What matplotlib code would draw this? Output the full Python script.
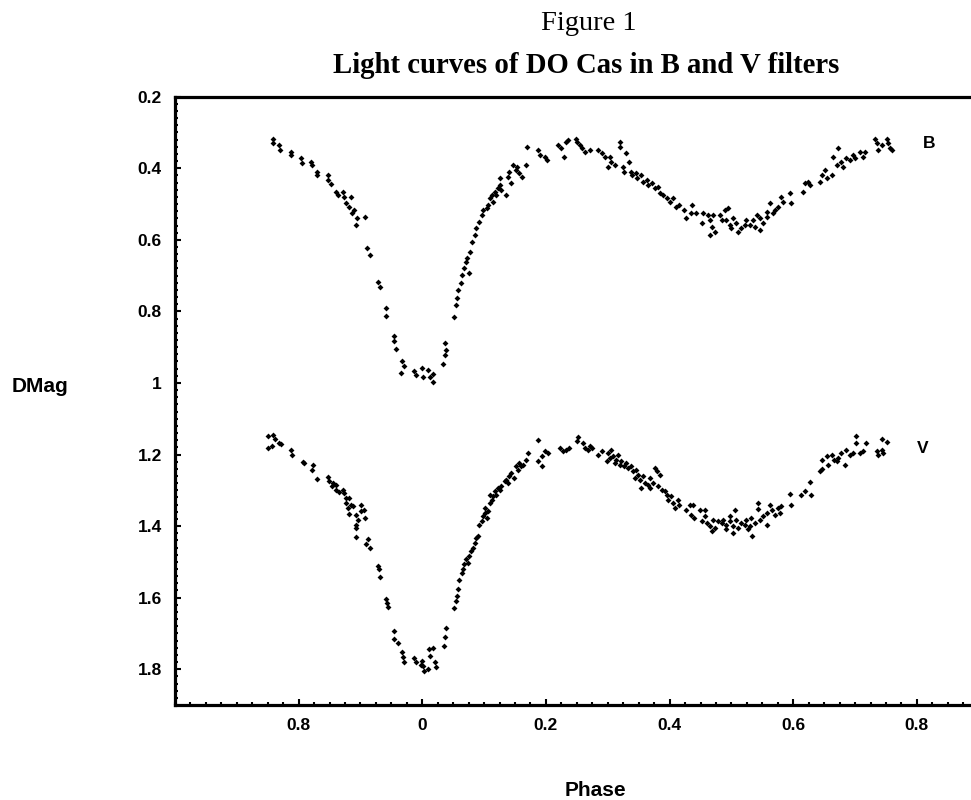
import matplotlib
matplotlib.use('Agg')
import matplotlib.pyplot as plt
from matplotlib.ticker import MultipleLocator

plt.rcParams['font.family'] = ['Liberation Sans', 'DejaVu Sans']

# B filter: phase, differential magnitude
b_phase = [-0.242, -0.242, -0.231, -0.230, -0.212, -0.212, -0.196, -0.194, -0.180, -0.178,
           -0.171, -0.171, -0.153, -0.152, -0.147, -0.140, -0.137, -0.129, -0.126, -0.123,
           -0.115, -0.118, -0.110, -0.113, -0.105, -0.093, -0.107, -0.089, -0.085, -0.072,
           -0.069, -0.059, -0.058, -0.046, -0.045, -0.042, -0.032, -0.030, -0.034, -0.013,
           -0.010, 0.000, 0.001, 0.009, 0.012, 0.017, 0.018, 0.033, 0.036, 0.036,
           0.039, 0.052, 0.054, 0.056, 0.057, 0.063, 0.065, 0.068, 0.071, 0.075,
           0.073, 0.077, 0.081, 0.085, 0.087, 0.091, 0.096, 0.098, 0.104, 0.106,
           0.109, 0.112, 0.114, 0.117, 0.120, 0.122, 0.125, 0.128, 0.125, 0.136,
           0.138, 0.144, 0.141, 0.146, 0.152, 0.154, 0.157, 0.162, 0.168, 0.169,
           0.187, 0.190, 0.198, 0.201, 0.219, 0.225, 0.230, 0.233, 0.235, 0.249,
           0.251, 0.255, 0.259, 0.263, 0.271, 0.284, 0.290, 0.295, 0.303, 0.306,
           0.300, 0.319, 0.319, 0.311, 0.324, 0.330, 0.335, 0.327, 0.338, 0.340,
           0.346, 0.348, 0.354, 0.357, 0.363, 0.365, 0.371, 0.376, 0.381, 0.384,
           0.389, 0.395, 0.400, 0.405, 0.411, 0.416, 0.424, 0.427, 0.437, 0.443,
           0.435, 0.452, 0.454, 0.462, 0.465, 0.468, 0.465, 0.473, 0.470, 0.481,
           0.484, 0.489, 0.494, 0.492, 0.497, 0.500, 0.502, 0.508, 0.510, 0.516,
           0.522, 0.524, 0.530, 0.535, 0.538, 0.541, 0.546, 0.546, 0.551, 0.557,
           0.557, 0.562, 0.567, 0.570, 0.575, 0.581, 0.583, 0.594, 0.597, 0.615,
           0.619, 0.627, 0.624, 0.643, 0.646, 0.651, 0.654, 0.662, 0.664, 0.670,
           0.672, 0.678, 0.680, 0.686, 0.691, 0.696, 0.700, 0.708, 0.713, 0.716,
           0.732, 0.735, 0.737, 0.743, 0.751, 0.753, 0.756, 0.759]
b_mag = [0.317, 0.330, 0.335, 0.349, 0.354, 0.363, 0.372, 0.386, 0.382, 0.391,
         0.410, 0.419, 0.419, 0.433, 0.444, 0.466, 0.475, 0.466, 0.480, 0.497,
         0.480, 0.507, 0.517, 0.525, 0.539, 0.535, 0.559, 0.623, 0.642, 0.717,
         0.731, 0.790, 0.814, 0.870, 0.884, 0.905, 0.940, 0.954, 0.971, 0.968,
         0.979, 0.957, 0.982, 0.963, 0.982, 0.974, 0.996, 0.946, 0.921, 0.888,
         0.907, 0.817, 0.782, 0.762, 0.740, 0.720, 0.698, 0.679, 0.661, 0.692,
         0.651, 0.633, 0.605, 0.586, 0.567, 0.549, 0.531, 0.517, 0.511, 0.503,
         0.483, 0.475, 0.494, 0.466, 0.475, 0.455, 0.447, 0.461, 0.427, 0.475,
         0.424, 0.441, 0.410, 0.391, 0.405, 0.396, 0.413, 0.424, 0.391, 0.340,
         0.349, 0.363, 0.368, 0.377, 0.335, 0.344, 0.368, 0.326, 0.321, 0.317,
         0.326, 0.335, 0.344, 0.354, 0.349, 0.349, 0.358, 0.368, 0.368, 0.382,
         0.396, 0.326, 0.340, 0.391, 0.396, 0.358, 0.382, 0.410, 0.410, 0.419,
         0.413, 0.427, 0.419, 0.438, 0.433, 0.447, 0.441, 0.455, 0.452, 0.469,
         0.475, 0.483, 0.494, 0.483, 0.507, 0.503, 0.517, 0.539, 0.503, 0.525,
         0.525, 0.553, 0.525, 0.531, 0.545, 0.563, 0.586, 0.577, 0.531, 0.531,
         0.545, 0.517, 0.511, 0.545, 0.559, 0.567, 0.539, 0.553, 0.577, 0.567,
         0.559, 0.545, 0.559, 0.545, 0.563, 0.531, 0.539, 0.572, 0.553, 0.535,
         0.521, 0.497, 0.525, 0.517, 0.507, 0.480, 0.494, 0.469, 0.497, 0.466,
         0.441, 0.447, 0.438, 0.438, 0.419, 0.405, 0.427, 0.419, 0.368, 0.391,
         0.344, 0.382, 0.396, 0.372, 0.377, 0.363, 0.372, 0.354, 0.368, 0.354,
         0.317, 0.330, 0.349, 0.335, 0.317, 0.330, 0.344, 0.349]

# V filter: phase, differential magnitude
v_phase = [-0.250, -0.242, -0.239, -0.250, -0.243, -0.231, -0.228, -0.212, -0.210, -0.193,
           -0.191, -0.177, -0.179, -0.170, -0.153, -0.151, -0.145, -0.139, -0.146, -0.139,
           -0.134, -0.129, -0.126, -0.124, -0.118, -0.123, -0.115, -0.120, -0.112, -0.118,
           -0.107, -0.099, -0.094, -0.099, -0.092, -0.104, -0.108, -0.107, -0.108, -0.088,
           -0.091, -0.084, -0.072, -0.070, -0.068, -0.059, -0.057, -0.056, -0.045, -0.045,
           -0.040, -0.032, -0.031, -0.030, -0.013, -0.010, 0.000, -0.002, 0.002, 0.001,
           0.009, 0.011, 0.012, 0.017, 0.020, 0.022, 0.035, 0.037, 0.039, 0.052,
           0.054, 0.056, 0.058, 0.059, 0.065, 0.066, 0.068, 0.071, 0.074, 0.075,
           0.079, 0.082, 0.085, 0.087, 0.090, 0.092, 0.096, 0.098, 0.101, 0.104,
           0.102, 0.106, 0.109, 0.112, 0.114, 0.109, 0.117, 0.120, 0.122, 0.125,
           0.128, 0.133, 0.136, 0.139, 0.141, 0.144, 0.149, 0.152, 0.155, 0.157,
           0.160, 0.163, 0.167, 0.171, 0.187, 0.187, 0.193, 0.194, 0.198, 0.203,
           0.222, 0.228, 0.233, 0.238, 0.252, 0.250, 0.260, 0.263, 0.268, 0.271,
           0.274, 0.284, 0.290, 0.300, 0.306, 0.303, 0.298, 0.308, 0.311, 0.314,
           0.317, 0.319, 0.322, 0.327, 0.330, 0.333, 0.338, 0.341, 0.346, 0.344,
           0.349, 0.352, 0.353, 0.357, 0.360, 0.365, 0.368, 0.368, 0.373, 0.376,
           0.379, 0.381, 0.384, 0.387, 0.392, 0.395, 0.397, 0.403, 0.406, 0.408,
           0.414, 0.416, 0.427, 0.433, 0.435, 0.439, 0.438, 0.449, 0.457, 0.452,
           0.457, 0.460, 0.465, 0.468, 0.470, 0.473, 0.478, 0.484, 0.486, 0.492,
           0.492, 0.497, 0.497, 0.503, 0.505, 0.503, 0.508, 0.511, 0.516, 0.522,
           0.524, 0.527, 0.530, 0.532, 0.534, 0.538, 0.543, 0.543, 0.546, 0.551,
           0.557, 0.558, 0.562, 0.565, 0.570, 0.575, 0.578, 0.581, 0.594, 0.597,
           0.613, 0.619, 0.627, 0.629, 0.643, 0.647, 0.646, 0.654, 0.656, 0.663,
           0.666, 0.670, 0.673, 0.678, 0.683, 0.686, 0.691, 0.697, 0.702, 0.702,
           0.708, 0.713, 0.717, 0.735, 0.737, 0.743, 0.743, 0.745, 0.751]
v_mag = [1.149, 1.145, 1.158, 1.182, 1.177, 1.168, 1.172, 1.188, 1.202, 1.222,
         1.223, 1.228, 1.242, 1.268, 1.263, 1.275, 1.279, 1.284, 1.289, 1.298,
         1.305, 1.298, 1.307, 1.321, 1.321, 1.335, 1.340, 1.349, 1.345, 1.365,
         1.368, 1.340, 1.354, 1.358, 1.377, 1.382, 1.396, 1.405, 1.430, 1.437,
         1.451, 1.461, 1.512, 1.521, 1.541, 1.605, 1.616, 1.626, 1.693, 1.716,
         1.726, 1.752, 1.765, 1.780, 1.768, 1.780, 1.777, 1.789, 1.805, 1.791,
         1.798, 1.744, 1.763, 1.740, 1.780, 1.793, 1.735, 1.709, 1.684, 1.628,
         1.610, 1.596, 1.577, 1.551, 1.530, 1.521, 1.507, 1.493, 1.502, 1.484,
         1.470, 1.461, 1.447, 1.433, 1.428, 1.396, 1.386, 1.372, 1.363, 1.377,
         1.349, 1.359, 1.335, 1.326, 1.317, 1.312, 1.303, 1.312, 1.293, 1.298,
         1.289, 1.275, 1.270, 1.279, 1.261, 1.251, 1.265, 1.233, 1.242, 1.223,
         1.233, 1.228, 1.214, 1.196, 1.160, 1.219, 1.205, 1.233, 1.191, 1.196,
         1.182, 1.191, 1.186, 1.182, 1.151, 1.163, 1.168, 1.182, 1.186, 1.175,
         1.182, 1.200, 1.191, 1.196, 1.186, 1.209, 1.219, 1.205, 1.223, 1.214,
         1.200, 1.228, 1.219, 1.233, 1.223, 1.237, 1.233, 1.247, 1.242, 1.265,
         1.256, 1.270, 1.293, 1.261, 1.279, 1.284, 1.293, 1.265, 1.279, 1.237,
         1.247, 1.289, 1.256, 1.298, 1.303, 1.312, 1.326, 1.317, 1.335, 1.349,
         1.326, 1.340, 1.354, 1.340, 1.368, 1.377, 1.340, 1.354, 1.354, 1.386,
         1.372, 1.391, 1.400, 1.414, 1.382, 1.405, 1.386, 1.391, 1.382, 1.396,
         1.409, 1.372, 1.386, 1.400, 1.354, 1.419, 1.382, 1.405, 1.391, 1.396,
         1.382, 1.409, 1.400, 1.377, 1.428, 1.391, 1.335, 1.352, 1.382, 1.372,
         1.363, 1.398, 1.340, 1.354, 1.368, 1.349, 1.363, 1.343, 1.309, 1.340,
         1.312, 1.303, 1.278, 1.312, 1.247, 1.240, 1.214, 1.203, 1.228, 1.200,
         1.214, 1.219, 1.210, 1.196, 1.228, 1.186, 1.200, 1.196, 1.149, 1.168,
         1.196, 1.191, 1.168, 1.191, 1.200, 1.158, 1.186, 1.196, 1.166]

y_ticks = [0.2, 0.4, 0.6, 0.8, 1.0, 1.2, 1.4, 1.6, 1.8]
y_labels = ['0.2', '0.4', '0.6', '0.8', '1', '1.2', '1.4', '1.6', '1.8']
x_ticks = [-0.2, 0.0, 0.2, 0.4, 0.6, 0.8]
x_labels = ['0.8', '0', '0.2', '0.4', '0.6', '0.8']

fig = plt.figure(figsize=(9.71, 8.0), dpi=100)
ax = fig.add_axes([0.1802, 0.11875, 0.8198, 0.7604])

ax.plot(b_phase, b_mag, 'D', color='black', ms=3.0, mew=0)
ax.plot(v_phase, v_mag, 'D', color='black', ms=3.0, mew=0)

ax.set_xlim(-0.4, 0.8875)
ax.set_ylim(1.9, 0.2)

ax.set_xticks(x_ticks)
ax.set_xticklabels(x_labels)
ax.set_yticks(y_ticks)
ax.set_yticklabels(y_labels)
ax.xaxis.set_minor_locator(MultipleLocator(0.025))
ax.yaxis.set_minor_locator(MultipleLocator(0.02))

ax.tick_params(which='both', direction='in', top=False, right=False, width=1.5)
ax.tick_params(which='major', length=4)
ax.tick_params(which='minor', length=2.5)
ax.tick_params(axis='x', pad=9, labelsize=12.5)
ax.tick_params(axis='y', pad=9.5, labelsize=12.5)
for lab in ax.get_xticklabels() + ax.get_yticklabels():
    lab.set_fontweight('bold')

for side in ['left', 'bottom', 'top']:
    ax.spines[side].set_linewidth(2.3)
ax.spines['right'].set_visible(False)

ax.text(0.819, 0.330, 'B', fontsize=12.5, fontweight='bold', ha='center', va='center')
ax.text(0.8095, 1.1835, 'V', fontsize=12.5, fontweight='bold', ha='center', va='center')

fig.text(0.606, 0.9625, 'Figure 1', family='Liberation Serif', fontsize=20.5,
         ha='center', va='baseline')
fig.text(0.6035, 0.90875, 'Light curves of DO Cas in B and V filters',
         family='Liberation Serif', fontsize=20.7, fontweight='bold',
         ha='center', va='baseline')
fig.text(40 / 971, 1 - 387 / 800, 'DMag', fontsize=15, fontweight='bold',
         ha='center', va='center')
fig.text(595 / 971, 1 - 790 / 800, 'Phase', fontsize=15, fontweight='bold',
         ha='center', va='center')

fig.savefig('out.png', dpi=100)
